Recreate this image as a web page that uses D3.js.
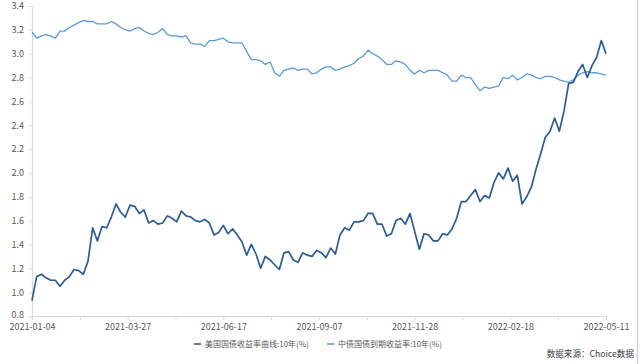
<!DOCTYPE html>
<html>
<head>
<meta charset="utf-8">
<script src="https://cdn.jsdelivr.net/npm/d3@7"></script>
<style>
  body { margin: 0; background: #fff; }
  text { font-family: "Noto Sans CJK SC", "Microsoft YaHei", sans-serif; }
</style>
</head>
<body>
<script>
'use strict';

// observation dates (sampled every 4 days)
var dates = [
    '2021-01-04','2021-01-08','2021-01-12','2021-01-16','2021-01-20','2021-01-24','2021-01-28',
    '2021-02-01','2021-02-05','2021-02-09','2021-02-13','2021-02-17','2021-02-21','2021-02-25',
    '2021-03-01','2021-03-05','2021-03-09','2021-03-13','2021-03-17','2021-03-21','2021-03-25','2021-03-29',
    '2021-04-02','2021-04-06','2021-04-10','2021-04-14','2021-04-18','2021-04-22','2021-04-26','2021-04-30',
    '2021-05-04','2021-05-08','2021-05-12','2021-05-16','2021-05-20','2021-05-24','2021-05-28',
    '2021-06-01','2021-06-05','2021-06-09','2021-06-13','2021-06-17','2021-06-21','2021-06-25','2021-06-29',
    '2021-07-03','2021-07-07','2021-07-11','2021-07-15','2021-07-19','2021-07-23','2021-07-27','2021-07-31',
    '2021-08-04','2021-08-08','2021-08-12','2021-08-16','2021-08-20','2021-08-24','2021-08-28',
    '2021-09-01','2021-09-05','2021-09-09','2021-09-13','2021-09-17','2021-09-21','2021-09-25','2021-09-29',
    '2021-10-03','2021-10-07','2021-10-11','2021-10-15','2021-10-19','2021-10-23','2021-10-27','2021-10-31',
    '2021-11-04','2021-11-08','2021-11-12','2021-11-16','2021-11-20','2021-11-24','2021-11-28',
    '2021-12-02','2021-12-06','2021-12-10','2021-12-14','2021-12-18','2021-12-22','2021-12-26','2021-12-30',
    '2022-01-03','2022-01-07','2022-01-11','2022-01-15','2022-01-19','2022-01-23','2022-01-27','2022-01-31',
    '2022-02-04','2022-02-08','2022-02-12','2022-02-16','2022-02-20','2022-02-24','2022-02-28',
    '2022-03-04','2022-03-08','2022-03-12','2022-03-16','2022-03-20','2022-03-24','2022-03-28',
    '2022-04-01','2022-04-05','2022-04-09','2022-04-13','2022-04-17','2022-04-21','2022-04-25','2022-04-29',
    '2022-05-03','2022-05-07','2022-05-11'
];

// US treasury 10y
var usYield = [
    0.93, 1.13, 1.15, 1.12, 1.10, 1.10, 1.05,
    1.10, 1.13, 1.19, 1.18, 1.15, 1.26, 1.54,
    1.43, 1.55, 1.54, 1.63, 1.74, 1.67, 1.63, 1.73,
    1.72, 1.66, 1.69, 1.58, 1.60, 1.57, 1.58, 1.64,
    1.62, 1.59, 1.68, 1.64, 1.63, 1.60, 1.59,
    1.61, 1.58, 1.48, 1.50, 1.56, 1.49, 1.53, 1.48,
    1.42, 1.31, 1.40, 1.32, 1.20, 1.30, 1.27, 1.23,
    1.19, 1.33, 1.34, 1.27, 1.25, 1.33, 1.31,
    1.30, 1.35, 1.33, 1.29, 1.37, 1.32, 1.48, 1.54,
    1.52, 1.59, 1.59, 1.60, 1.66, 1.66, 1.57, 1.57,
    1.47, 1.49, 1.60, 1.62, 1.57, 1.66, 1.51,
    1.36, 1.49, 1.48, 1.43, 1.43, 1.49, 1.48, 1.53,
    1.62, 1.76, 1.76, 1.81, 1.86, 1.76, 1.81, 1.79,
    1.92, 2.00, 1.95, 2.04, 1.93, 1.98, 1.74,
    1.80, 1.88, 2.03, 2.16, 2.30, 2.35, 2.46,
    2.35, 2.52, 2.75, 2.76, 2.85, 2.91, 2.80, 2.90,
    2.97, 3.11, 3.00
];

// China government bond 10y
var cnYield = [
    3.18, 3.13, 3.15, 3.16, 3.15, 3.13, 3.19,
    3.19, 3.22, 3.24, 3.26, 3.28, 3.27, 3.27,
    3.25, 3.25, 3.25, 3.27, 3.25, 3.22, 3.20, 3.19,
    3.21, 3.22, 3.19, 3.17, 3.16, 3.18, 3.21, 3.16,
    3.15, 3.15, 3.14, 3.15, 3.09, 3.08, 3.08,
    3.06, 3.11, 3.11, 3.12, 3.13, 3.10, 3.09, 3.09,
    3.09, 3.02, 2.95, 2.95, 2.94, 2.91, 2.93, 2.84,
    2.81, 2.86, 2.87, 2.88, 2.86, 2.87, 2.87,
    2.83, 2.84, 2.87, 2.89, 2.89, 2.86, 2.87, 2.89,
    2.90, 2.92, 2.96, 2.98, 3.03, 3.00, 2.98, 2.95,
    2.91, 2.91, 2.94, 2.93, 2.91, 2.86, 2.83,
    2.86, 2.84, 2.86, 2.86, 2.86, 2.84, 2.82, 2.77,
    2.77, 2.82, 2.80, 2.80, 2.74, 2.69, 2.72, 2.71,
    2.72, 2.73, 2.80, 2.79, 2.82, 2.78, 2.80,
    2.83, 2.82, 2.80, 2.79, 2.81, 2.81, 2.80,
    2.78, 2.77, 2.76, 2.78, 2.82, 2.84, 2.85, 2.84,
    2.84, 2.83, 2.82
];

var seriesNames = ['美国国债收益率曲线:10年(%)', '中债国债到期收益率:10年(%)'];
var seriesColors = ['#2d5c95', '#5b9bd5'];
var xTickLabels = ['2021-01-04', '2021-03-27', '2021-06-17', '2021-09-07', '2021-11-28', '2022-02-18', '2022-05-11'];
var yTicks = [0.8, 1.0, 1.2, 1.4, 1.6, 1.8, 2.0, 2.2, 2.4, 2.6, 2.8, 3.0, 3.2, 3.4];
var sourceText = '数据来源：Choice数据';

var width = 640,
    height = 364;
var plot = {left: 32, right: 606, top: 6, bottom: 316};

var parse = d3.timeParse('%Y-%m-%d');
var fmt = d3.timeFormat('%Y-%m-%d');
var majorTicks = xTickLabels.map(parse);

var svg = d3.select('body')
    .append('svg')
    .attr('width', width)
    .attr('height', height);

var x = d3.scaleTime()
    .domain([majorTicks[0], majorTicks[majorTicks.length - 1]])
    .range([plot.left, plot.right]);

var y = d3.scaleLinear()
    .domain([0.8, 3.4])
    .range([plot.bottom, plot.top]);

// minor ticks sit halfway between labelled ticks
var minorTicks = d3.pairs(majorTicks).map(function(p) {
    return new Date((p[0].getTime() + p[1].getTime()) / 2);
});

var xAxis = svg.append('g')
    .attr('transform', 'translate(0,' + plot.bottom + ')')
    .call(d3.axisBottom(x)
        .tickValues(majorTicks.concat(minorTicks))
        .tickSize(4)
        .tickPadding(4)
        .tickFormat(function(d) {
            return xTickLabels.indexOf(fmt(d)) >= 0 ? fmt(d) : '';
        }));

var yAxis = svg.append('g')
    .attr('transform', 'translate(' + plot.left + ',0)')
    .call(d3.axisLeft(y)
        .tickValues(yTicks)
        .tickSize(3)
        .tickPadding(5)
        .tickFormat(d3.format('.1f')));

[xAxis, yAxis].forEach(function(g) {
    g.select('.domain').attr('stroke', '#d9d9d9').attr('stroke-width', 1.2);
    g.selectAll('.tick line').attr('stroke', '#d9d9d9');
    g.selectAll('.tick text')
        .attr('fill', '#595959')
        .style('font-size', '9px');
});
// keep the lowest y label clear of the first date label
yAxis.selectAll('.tick text')
    .filter(function(d) { return d === yTicks[0]; })
    .attr('dy', '0.2em');

var line = d3.line()
    .x(function(d) { return x(d.date); })
    .y(function(d) { return y(d.value); });

var series = [usYield, cnYield].map(function(vals, k) {
    return {
        name: seriesNames[k],
        color: seriesColors[k],
        points: vals.map(function(v, i) {
            return {date: parse(dates[i]), value: v};
        })
    };
});

svg.selectAll('path.series')
    .data(series.slice().reverse())
    .enter()
    .append('path')
    .attr('class', 'series')
    .attr('fill', 'none')
    .attr('stroke', function(d) { return d.color; })
    .attr('stroke-width', function(d, i) { return i === 1 ? 1.7 : 1.3; })
    .attr('stroke-linejoin', 'round')
    .attr('d', function(d) { return line(d.points); });

// legend
var legendX = [194, 327];
var legend = svg.selectAll('g.legend')
    .data(series)
    .enter()
    .append('g')
    .attr('class', 'legend')
    .attr('transform', function(d, i) { return 'translate(' + legendX[i] + ',344)'; });

legend.append('line')
    .attr('x1', 0)
    .attr('x2', 7)
    .attr('stroke', function(d) { return d.color; })
    .attr('stroke-width', 1.6);

legend.append('text')
    .attr('x', 11)
    .attr('dy', '0.35em')
    .attr('fill', '#595959')
    .style('font-size', '8px')
    .text(function(d) { return d.name; });

svg.append('text')
    .attr('x', 634)
    .attr('y', 357)
    .attr('text-anchor', 'end')
    .attr('fill', '#404040')
    .style('font-size', '8.6px')
    .text(sourceText);

// right frame edge
svg.append('line')
    .attr('x1', 637.5)
    .attr('x2', 637.5)
    .attr('y1', 0)
    .attr('y2', height)
    .attr('stroke', '#d4d4d4')
    .attr('stroke-width', 1.5);
</script>
</body>
</html>
